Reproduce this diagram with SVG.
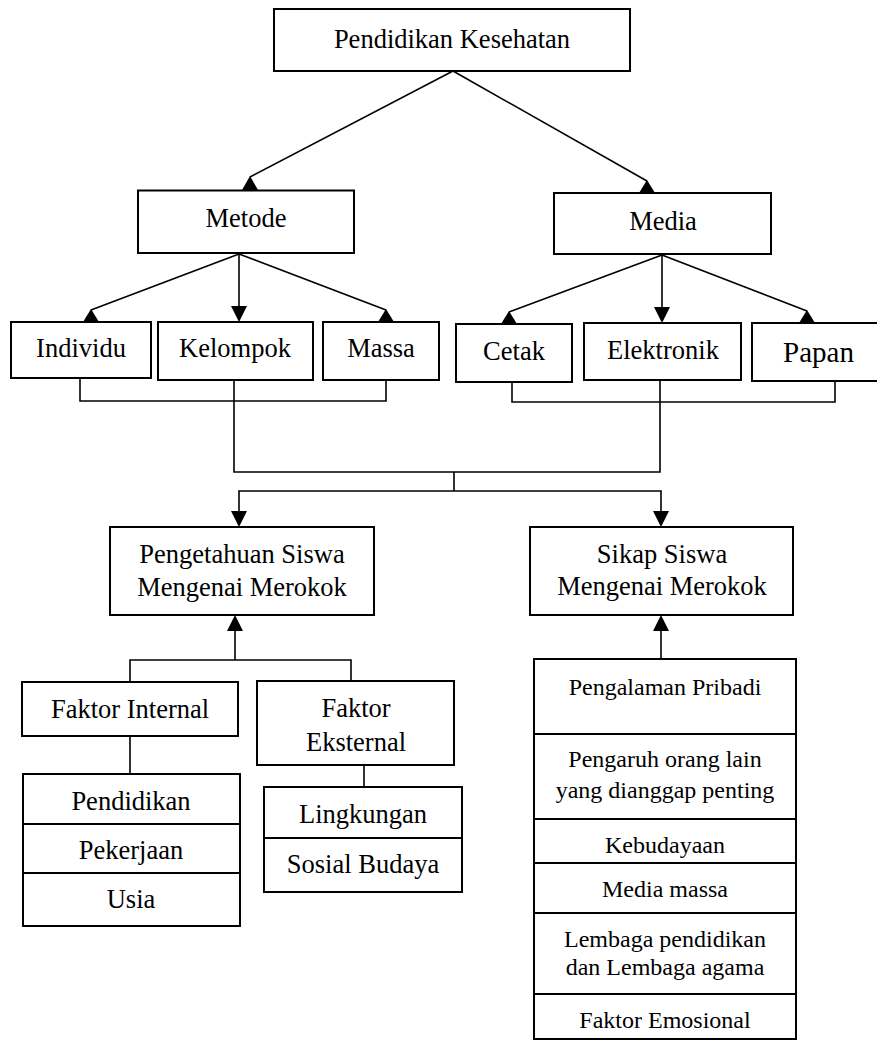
<svg xmlns="http://www.w3.org/2000/svg" width="877" height="1040" viewBox="0 0 877 1040">
<style>
.box{fill:#fff;stroke:#000;stroke-width:2}
.ln{fill:none;stroke:#000;stroke-width:1.6}
.ah{fill:#000;stroke:none}
</style>
<rect width="877" height="1040" fill="#fff"/>
<g id="connectors">
<line class="ln" x1="453" y1="71" x2="250" y2="177"/>
<polygon class="ah" points="250,176 242,190 258,190"/>
<line class="ln" x1="453" y1="71" x2="647" y2="181"/>
<polygon class="ah" points="647,180 639,193 655,193"/>
<line class="ln" x1="239" y1="254" x2="91" y2="310"/>
<polygon class="ah" points="91,309 83,322 99,322"/>
<line class="ln" x1="239" y1="254" x2="239" y2="307"/>
<polygon class="ah" points="239,322 231,306 247,306"/>
<line class="ln" x1="239" y1="254" x2="386" y2="310"/>
<polygon class="ah" points="386,309 378,322 394,322"/>
<line class="ln" x1="662" y1="255" x2="509" y2="312"/>
<polygon class="ah" points="509,311 501,324 517,324"/>
<line class="ln" x1="662" y1="255" x2="662" y2="308"/>
<polygon class="ah" points="662,323 654,307 670,307"/>
<line class="ln" x1="662" y1="255" x2="807" y2="311"/>
<polygon class="ah" points="807,310 799,323 815,323"/>
<path class="ln" d="M80,379 V401 H386 V380"/>
<path class="ln" d="M512,382 V402 H835 V381"/>
<path class="ln" d="M234,381 V472 H660 V380"/>
<path class="ln" d="M454,472 V491"/>
<path class="ln" d="M239,512 V491 H661 V512"/>
<polygon class="ah" points="239,527 231,511 247,511"/>
<polygon class="ah" points="661,527 653,511 669,511"/>
<line class="ln" x1="235" y1="660" x2="235" y2="630"/>
<polygon class="ah" points="235,615 227,631 243,631"/>
<path class="ln" d="M130,682 V660 H351 V681"/>
<line class="ln" x1="661" y1="659" x2="661" y2="630"/>
<polygon class="ah" points="661,615 653,631 669,631"/>
<line class="ln" x1="130" y1="736" x2="130" y2="774"/>
<line class="ln" x1="364" y1="765" x2="364" y2="787"/>
</g>
<g font-family="Liberation Serif" font-size="26.5" text-anchor="middle" fill="#000">
<g id="n-pendidikan-kesehatan"><rect class="box" x="274" y="9" width="356" height="62"/><text x="452" y="48">Pendidikan Kesehatan</text></g>
<g id="n-metode"><rect class="box" x="138" y="190.5" width="216" height="62.5"/><text x="246" y="227">Metode</text></g>
<g id="n-media"><rect class="box" x="554" y="193" width="217" height="61"/><text x="663" y="230">Media</text></g>
<g id="n-individu"><rect class="box" x="11" y="322" width="140" height="56"/><text x="81" y="357">Individu</text></g>
<g id="n-kelompok"><rect class="box" x="158" y="322" width="155" height="58"/><text x="235" y="357">Kelompok</text></g>
<g id="n-massa"><rect class="box" x="323" y="322" width="116" height="58"/><text x="381" y="357">Massa</text></g>
<g id="n-cetak"><rect class="box" x="456" y="324" width="116" height="58"/><text x="514" y="360">Cetak</text></g>
<g id="n-elektronik"><rect class="box" x="584" y="323" width="157" height="57"/><text x="663" y="359">Elektronik</text></g>
<g id="n-papan"><rect class="box" x="752" y="323" width="130" height="58"/><text x="818.5" y="362" font-size="29">Papan</text></g>
<g id="n-pengetahuan"><rect class="box" x="110" y="527" width="264" height="88"/><text x="242" y="563">Pengetahuan Siswa</text><text x="242" y="596">Mengenai Merokok</text></g>
<g id="n-sikap"><rect class="box" x="530" y="527" width="263" height="88"/><text x="662" y="563">Sikap Siswa</text><text x="662" y="595">Mengenai Merokok</text></g>
<g id="n-faktor-internal"><rect class="box" x="22" y="682" width="216" height="54"/><text x="130" y="718">Faktor Internal</text></g>
<g id="n-faktor-eksternal"><rect class="box" x="257" y="681" width="197" height="84"/><text x="356" y="717">Faktor</text><text x="356" y="751">Eksternal</text></g>
<g id="n-pendidikan"><rect class="box" x="23" y="774" width="217" height="50"/><text x="131" y="810">Pendidikan</text></g>
<g id="n-pekerjaan"><rect class="box" x="23" y="824" width="217" height="49"/><text x="131" y="859">Pekerjaan</text></g>
<g id="n-usia"><rect class="box" x="23" y="873" width="217" height="53"/><text x="131" y="908">Usia</text></g>
<g id="n-lingkungan"><rect class="box" x="264" y="787" width="198" height="51"/><text x="363" y="823">Lingkungan</text></g>
<g id="n-sosial-budaya"><rect class="box" x="264" y="838" width="198" height="54"/><text x="363" y="873">Sosial Budaya</text></g>
<g font-size="24">
<g id="n-pengalaman"><rect class="box" x="534" y="659" width="262" height="75"/><text x="665" y="695">Pengalaman Pribadi</text></g>
<g id="n-pengaruh"><rect class="box" x="534" y="734" width="262" height="85"/><text x="665" y="767">Pengaruh orang lain</text><text x="665" y="798">yang dianggap penting</text></g>
<g id="n-kebudayaan"><rect class="box" x="534" y="819" width="262" height="44"/><text x="665" y="853">Kebudayaan</text></g>
<g id="n-media-massa"><rect class="box" x="534" y="863" width="262" height="50"/><text x="665" y="897">Media massa</text></g>
<g id="n-lembaga"><rect class="box" x="534" y="913" width="262" height="81"/><text x="665" y="947">Lembaga pendidikan</text><text x="665" y="975">dan Lembaga agama</text></g>
<g id="n-faktor-emosional"><rect class="box" x="534" y="994" width="262" height="45"/><text x="665" y="1028">Faktor Emosional</text></g>
</g>
</g>
</svg>
